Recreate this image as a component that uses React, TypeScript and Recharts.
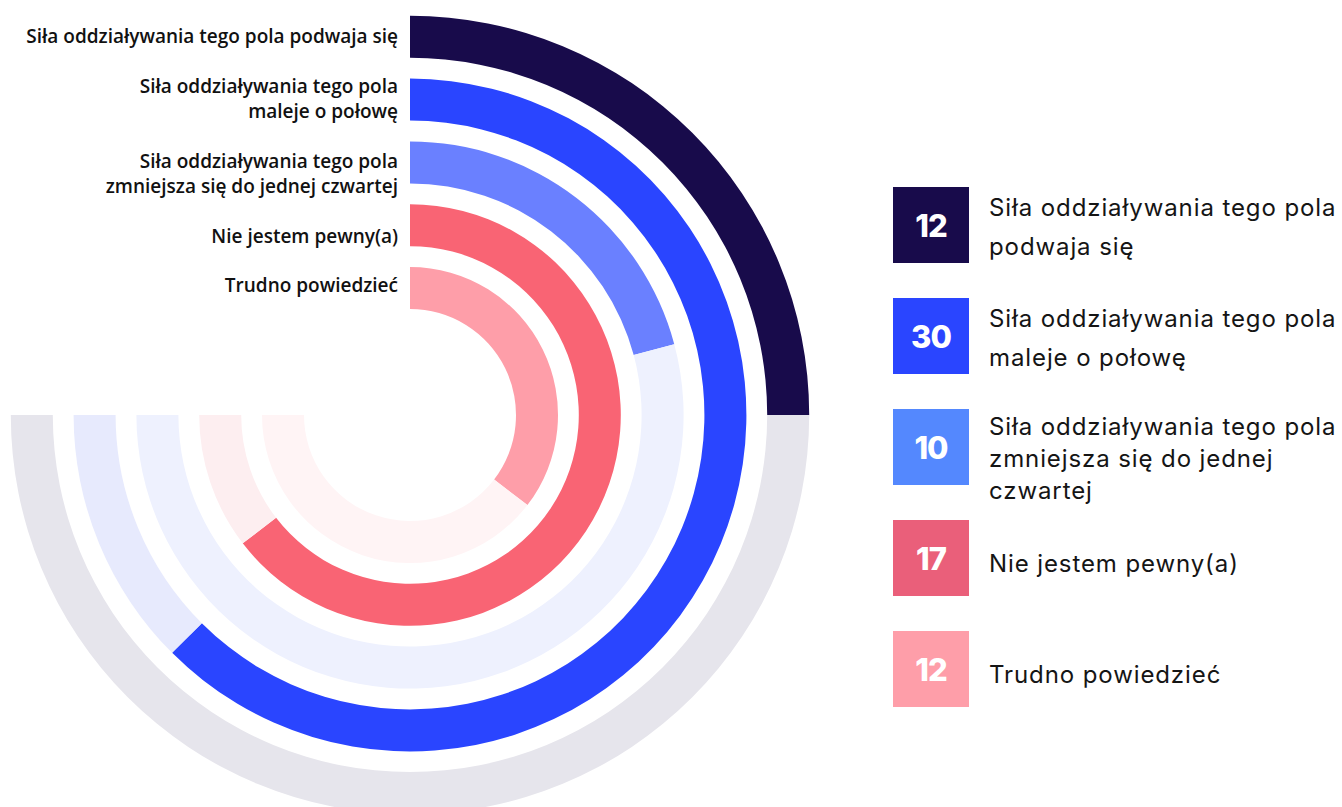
import { RadialBarChart, RadialBar, PolarAngleAxis, PolarRadiusAxis, Cell } from "recharts"

// outer ring first (same order as the legend)
const categories = [
  "Siła oddziaływania tego pola podwaja się",
  "Siła oddziaływania tego pola maleje o połowę",
  "Siła oddziaływania tego pola zmniejsza się do jednej czwartej",
  "Nie jestem pewny(a)",
  "Trudno powiedzieć",
]
const ringLabelLines = [
  ["Siła oddziaływania tego pola podwaja się"],
  ["Siła oddziaływania tego pola", "maleje o połowę"],
  ["Siła oddziaływania tego pola", "zmniejsza się do jednej czwartej"],
  ["Nie jestem pewny(a)"],
  ["Trudno powiedzieć"],
]
const legendLabelLines = [
  ["Siła oddziaływania tego pola", "podwaja się"],
  ["Siła oddziaływania tego pola", "maleje o połowę"],
  ["Siła oddziaływania tego pola", "zmniejsza się do jednej", "czwartej"],
  ["Nie jestem pewny(a)"],
  ["Trudno powiedzieć"],
]
const legendValues = [12, 30, 10, 17, 12]
const arcValues = [12, 30, 10, 31, 17]
const MAX = 36

const ringColors = ["#180b4b", "#2a45ff", "#6a80ff", "#f96474", "#fe9ea9"]
const trackColors = ["#e6e5ec", "#e7eafd", "#eef1fe", "#fdeef0", "#fff4f5"]
const legendColors = ["#180b4b", "#2a45ff", "#5488fe", "#ea5f7a", "#fe9ea9"]

// radial chart draws the first row innermost, so flip it
const chartData = categories
  .map((name, i) => ({ name, value: arcValues[i], rest: MAX - arcValues[i], color: ringColors[i], track: trackColors[i] }))
  .reverse()

export default function App() {
  return (
    <div style={{ position: "absolute", left: 0, top: 0, width: 1342, height: 807, background: "#fff", overflow: "hidden" }}>
      <RadialBarChart
        width={860}
        height={807}
        cx={410}
        cy={415}
        innerRadius={95.5}
        outerRadius={409.5}
        startAngle={90}
        endAngle={-180}
        barCategoryGap={10.5}
        data={chartData}
        margin={{ top: 0, right: 0, bottom: 0, left: 0 }}
        style={{ position: "absolute", left: 0, top: 0 }}
      >
        <PolarAngleAxis type="number" domain={[0, MAX]} tick={false} axisLine={false} />
        <PolarRadiusAxis type="category" dataKey="name" tick={false} axisLine={false} />
        <RadialBar dataKey="value" stackId="a" isAnimationActive={false}>
          {chartData.map((d) => (
            <Cell key={d.name} fill={d.color} />
          ))}
        </RadialBar>
        <RadialBar dataKey="rest" stackId="a" isAnimationActive={false}>
          {chartData.map((d) => (
            <Cell key={d.name} fill={d.track} />
          ))}
        </RadialBar>
      </RadialBarChart>

      {/* ring captions, stacked to the left of the 12 o'clock start */}
      <div
        style={{
          position: "absolute",
          left: 0,
          top: 24,
          width: 398,
          display: "flex",
          flexDirection: "column",
          gap: 24,
          textAlign: "right",
          fontFamily: "'Open Sans', sans-serif",
          fontWeight: 600,
          fontSize: 19,
          lineHeight: "25.5px",
          color: "#111",
          whiteSpace: "nowrap",
        }}
      >
        {ringLabelLines.map((lines, i) => (
          <div key={i}>
            {lines.map((l) => (
              <div key={l}>{l}</div>
            ))}
          </div>
        ))}
      </div>

      {/* legend */}
      {legendLabelLines.map((lines, i) => (
        <div
          key={i}
          style={{ position: "absolute", left: 893, top: 187 + i * 111, height: 76, display: "flex", alignItems: lines.length > 2 ? "flex-start" : "center" }}
        >
          <div
            style={{
              width: 76,
              height: 76,
              flex: "none",
              background: legendColors[i],
              color: "#fff",
              display: "flex",
              alignItems: "center",
              justifyContent: "center",
              fontFamily: "Inter, sans-serif",
              fontWeight: 800,
              fontSize: 31,
              letterSpacing: -1,
            }}
          >
            {legendValues[i]}
          </div>
          <div
            style={{
              marginLeft: 20,
              marginTop: lines.length > 2 ? 2 : lines.length === 1 ? 11 : 3,
              fontFamily: "Inter, sans-serif",
              fontSize: 24,
              letterSpacing: 0.9,
              lineHeight: lines.length > 2 ? "32px" : "39px",
              color: "#151515",
              whiteSpace: "nowrap",
            }}
          >
            {lines.map((l) => (
              <div key={l}>{l}</div>
            ))}
          </div>
        </div>
      ))}
    </div>
  )
}
